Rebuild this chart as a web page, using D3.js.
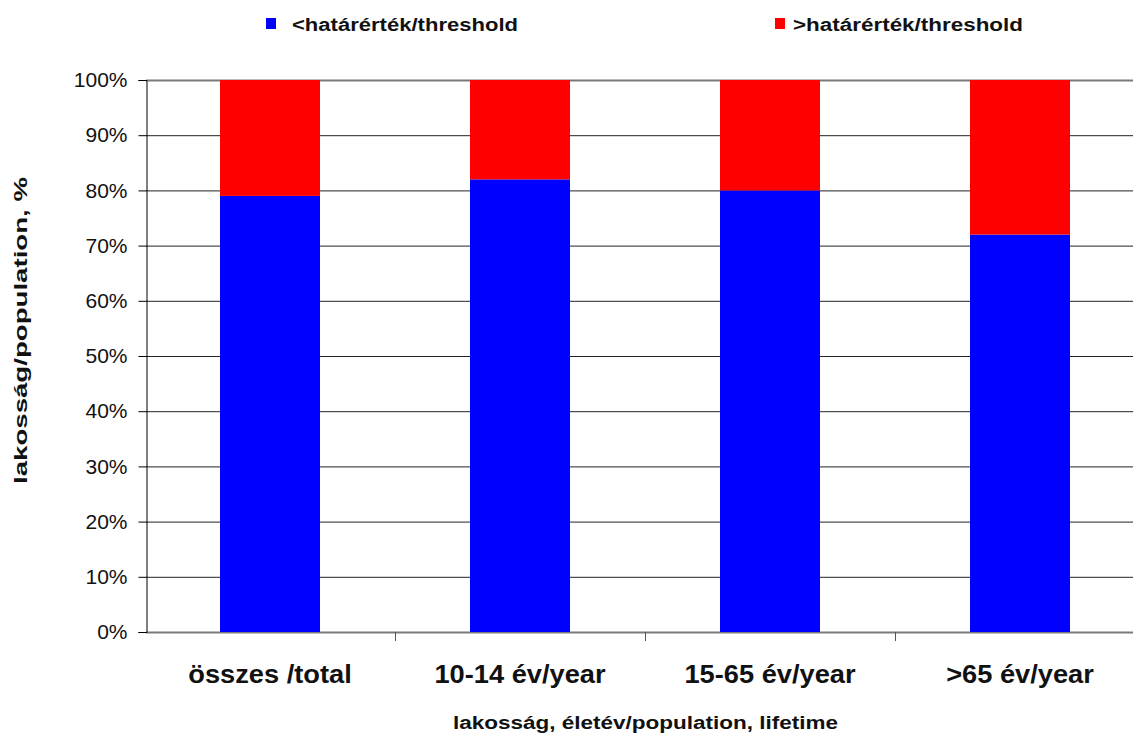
<!DOCTYPE html>
<html>
<head>
<meta charset="utf-8">
<script src="https://cdn.jsdelivr.net/npm/d3@7"></script>
<style>
  html, body { margin: 0; padding: 0; background: #fff; }
  svg { display: block; font-family: Arial, "Liberation Sans", sans-serif; }
</style>
</head>
<body>
<svg id="chart" width="1133" height="734"></svg>
<script>
// Population share below / above the threshold, per age group
const categories = ["összes /total", "10-14 év/year", "15-65 év/year", ">65 év/year"];
const belowThreshold = [79, 82, 80, 72];
const aboveThreshold = [21, 18, 20, 28];
const seriesNames = ["<határérték/threshold", ">határérték/threshold"];
const seriesColors = ["#0000ff", "#ff0000"];
const yTicks = [0, 10, 20, 30, 40, 50, 60, 70, 80, 90, 100];
const xTitle = "lakosság, életév/population, lifetime";
const yTitle = "lakosság/population, %";

const svg = d3.select("#chart");
const W = 1133;
const plot = { left: 146, right: 1146, top: 80, bottom: 632 };

const rows = categories.map((c, i) => ({ cat: c, below: belowThreshold[i], above: aboveThreshold[i] }));
const stack = d3.stack().keys(["below", "above"]);
const layers = stack(rows);

const x = d3.scaleBand().domain(categories)
  .range([plot.left - 1, plot.right - 1])
  .paddingInner(0.6).paddingOuter(0.3);
const y = d3.scaleLinear().domain([0, 100]).range([plot.bottom, plot.top]);

// horizontal gridlines
svg.append("g").selectAll("line").data(yTicks).join("line")
  .attr("x1", plot.left).attr("x2", W)
  .attr("y1", d => y(d) + 0.5).attr("y2", d => y(d) + 0.5)
  .attr("stroke", d => (d === 0 || d === 100) ? "#7a7a7a" : "#222")
  .attr("stroke-width", d => (d === 0 || d === 100) ? 2 : 1);

// stacked bars
svg.append("g").selectAll("g").data(layers).join("g")
  .attr("fill", (d, i) => seriesColors[i])
  .selectAll("rect").data(d => d).join("rect")
  .attr("x", d => x(d.data.cat))
  .attr("width", x.bandwidth())
  .attr("y", d => y(d[1]))
  .attr("height", d => y(d[0]) - y(d[1]));

// y axis
const yAxis = d3.axisLeft(y).tickValues(yTicks).tickSize(8).tickPadding(11)
  .tickFormat(d => d + "%");
const gy = svg.append("g").attr("transform", `translate(${plot.left + 0.5},0)`).call(yAxis);
gy.select(".domain").attr("stroke", "#000");
gy.selectAll(".tick line").attr("stroke", "#000");
gy.selectAll(".tick text").attr("font-size", 21).attr("fill", "#111")
  .attr("font-family", "Arial, 'Liberation Sans', sans-serif");

// category separators on the x axis
const step = x.step();
const seps = categories.slice(1).map(c => x(c) + x.bandwidth() / 2 - step / 2);
svg.append("g").selectAll("line").data(seps).join("line")
  .attr("x1", d => Math.round(d) + 0.5).attr("x2", d => Math.round(d) + 0.5)
  .attr("y1", plot.bottom).attr("y2", plot.bottom + 9)
  .attr("stroke", "#555").attr("stroke-width", 1);

// category labels
svg.append("g").selectAll("text").data(categories).join("text")
  .attr("x", d => x(d) + x.bandwidth() / 2)
  .attr("y", 683)
  .attr("text-anchor", "middle")
  .attr("font-size", 25).attr("font-weight", "bold").attr("fill", "#111")
  .attr("transform", d => {
    const cx = x(d) + x.bandwidth() / 2;
    return `translate(${cx},0) scale(1.09,1) translate(${-cx},0)`;
  })
  .text(d => d);

// axis titles
svg.append("text")
  .attr("x", 453).attr("y", 729)
  .attr("font-size", 18).attr("font-weight", "bold").attr("fill", "#111")
  .attr("textLength", 385).attr("lengthAdjust", "spacingAndGlyphs")
  .text(xTitle);

svg.append("text")
  .attr("transform", "translate(27,484) rotate(-90)")
  .attr("font-size", 19).attr("font-weight", "bold").attr("fill", "#111")
  .attr("textLength", 307).attr("lengthAdjust", "spacingAndGlyphs")
  .text(yTitle);

// legend
const legendPos = [{ sq: 266, tx: 292, w: 226 }, { sq: 775, tx: 793, w: 230 }];
const lg = svg.append("g").selectAll("g").data(seriesNames).join("g");
lg.append("rect")
  .attr("x", (d, i) => legendPos[i].sq).attr("y", 18)
  .attr("width", 10).attr("height", 11)
  .attr("fill", (d, i) => seriesColors[i]);
lg.append("text")
  .attr("x", (d, i) => legendPos[i].tx).attr("y", 31)
  .attr("font-size", 18).attr("font-weight", "bold").attr("fill", "#111")
  .attr("textLength", (d, i) => legendPos[i].w).attr("lengthAdjust", "spacingAndGlyphs")
  .text(d => d);
</script>
</body>
</html>
